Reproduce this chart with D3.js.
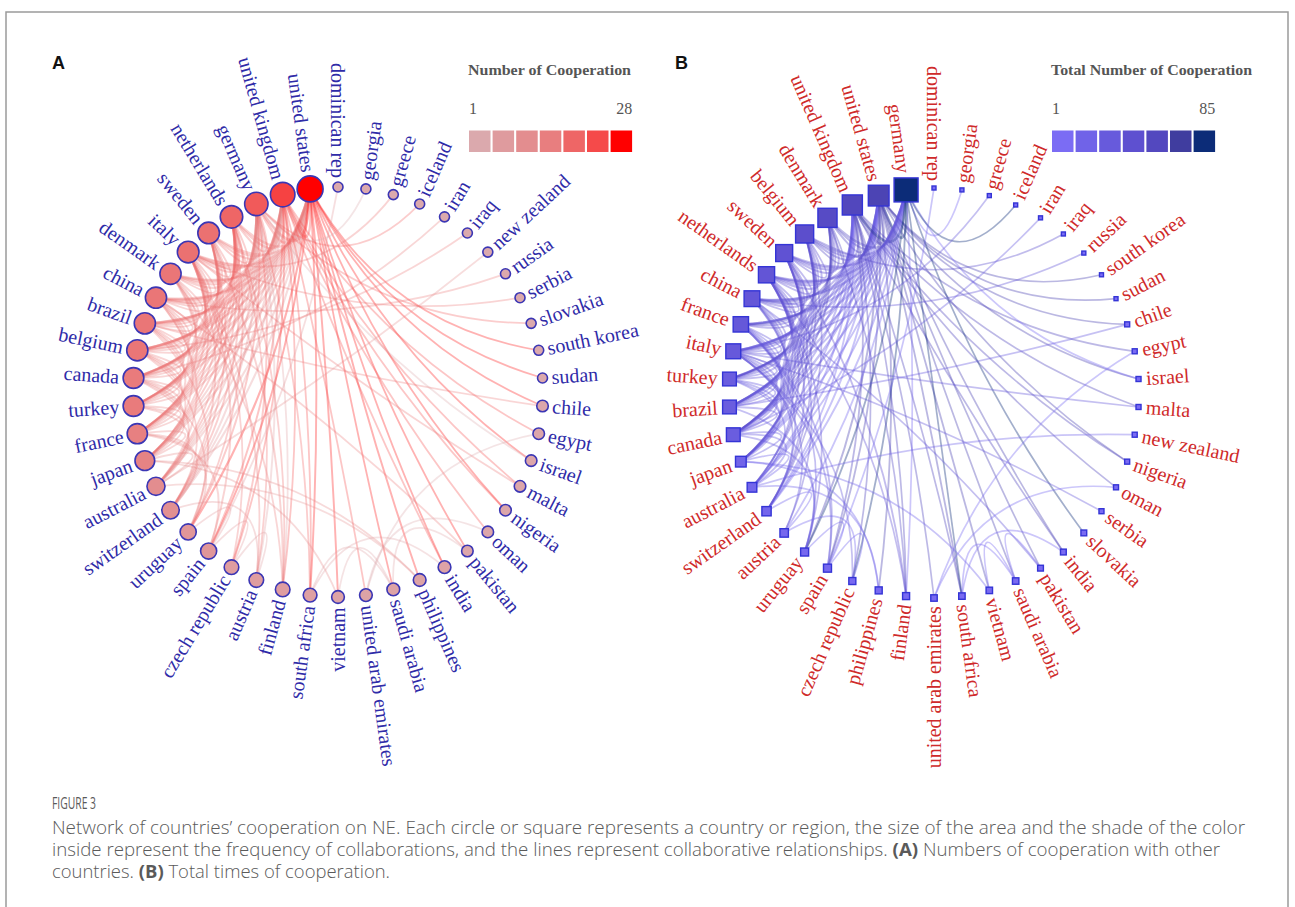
<!DOCTYPE html>
<html><head><meta charset="utf-8">
<script src="https://cdn.jsdelivr.net/npm/d3@7"></script>
<style>body{margin:0;background:#fff}svg{display:block}</style>
</head><body>
<svg id="chart" width="1295" height="907"></svg>
<script>
// ---------- DATA ----------
// Panel A nodes, clockwise from the top of the circle
const nodesA = ["dominican rep","georgia","greece","iceland","iran","iraq","new zealand","russia","serbia","slovakia","south korea","sudan","chile","egypt","israel","malta","nigeria","oman","pakistan","india","philippines","saudi arabia","united arab emirates","vietnam","south africa","finland","austria","czech republic","spain","uruguay","switzerland","australia","japan","france","turkey","canada","belgium","brazil","china","denmark","italy","sweden","netherlands","germany","united kingdom","united states"];
const valuesA = [1,1,1,1,1,1,1,1,1,1,1,1,2,2,2,2,2,2,2,3,3,3,3,3,4,5,5,5,7,7,9,10,13,14,15,15,16,16,16,16,17,17,19,21,24,28];
// Panel B nodes, clockwise from the top of the circle
const nodesB = ["dominican rep","georgia","greece","iceland","iran","iraq","russia","south korea","sudan","chile","egypt","israel","malta","new zealand","nigeria","oman","serbia","slovakia","india","pakistan","saudi arabia","vietnam","south africa","united arab emirates","finland","philippines","czech republic","spain","uruguay","austria","switzerland","australia","japan","canada","brazil","turkey","italy","france","china","netherlands","sweden","belgium","denmark","united kingdom","united states","germany"];
const valuesB = [1,1,1,1,1,1,1,1,1,2,2,2,2,2,2,2,2,3,3,3,4,4,4,4,5,5,5,7,7,8,10,11,14,25,25,25,30,32,34,36,40,46,52,58,62,85];

// collaboration links [source, target, weight]
const links = [
["united kingdom","united states",8],["germany","united states",9],["netherlands","united states",5],["sweden","united states",4],["italy","united states",5],["denmark","united states",4],["china","united states",6],["brazil","united states",5],["belgium","united states",4],["canada","united states",6],["turkey","united states",4],["france","united states",4],["japan","united states",4],["australia","united states",3],["switzerland","united states",3],
["united states","uruguay",3],["united states","spain",2],["united states","south africa",2],["united states","vietnam",2],["united states","saudi arabia",1],["united states","philippines",2],["united states","india",1],["united states","pakistan",1],["united states","nigeria",1],["united states","israel",1],["united states","chile",1],["united states","south korea",1],["united states","sudan",1],
["germany","united kingdom",7],["netherlands","united kingdom",5],["sweden","united kingdom",4],["italy","united kingdom",4],["denmark","united kingdom",4],["china","united kingdom",3],["brazil","united kingdom",3],["belgium","united kingdom",4],["canada","united kingdom",3],["turkey","united kingdom",2],["france","united kingdom",3],["japan","united kingdom",2],["australia","united kingdom",3],["switzerland","united kingdom",2],
["united kingdom","spain",2],["united kingdom","czech republic",1],["united kingdom","finland",1],["united kingdom","south africa",1],["united kingdom","india",1],["united kingdom","nigeria",1],["united kingdom","malta",1],["united kingdom","egypt",1],["united kingdom","united arab emirates",1],["united kingdom","oman",1],
["netherlands","germany",5],["sweden","germany",4],["italy","germany",4],["denmark","germany",5],["china","germany",3],["brazil","germany",3],["belgium","germany",4],["canada","germany",3],["turkey","germany",3],["france","germany",4],["japan","germany",2],["australia","germany",2],["switzerland","germany",3],["austria","germany",2],["finland","germany",1],["israel","germany",1],["georgia","germany",1],
["germany","uruguay",2],["germany","czech republic",2],["germany","iceland",1],["germany","slovakia",1],["germany","south africa",1],
["netherlands","sweden",3],["netherlands","italy",3],["netherlands","denmark",3],["netherlands","china",2],["netherlands","brazil",2],["netherlands","belgium",4],["netherlands","canada",2],["netherlands","turkey",2],["netherlands","france",3],["netherlands","japan",2],["netherlands","australia",2],["netherlands","switzerland",2],["netherlands","finland",1],["netherlands","austria",1],["netherlands","uruguay",1],
["sweden","italy",3],["sweden","denmark",4],["sweden","china",2],["sweden","brazil",2],["sweden","belgium",2],["sweden","canada",2],["sweden","turkey",2],["sweden","france",2],["sweden","japan",1],["sweden","finland",2],["sweden","switzerland",1],["sweden","australia",1],
["italy","denmark",2],["italy","china",2],["italy","brazil",2],["italy","belgium",3],["italy","canada",2],["italy","turkey",2],["italy","france",3],["italy","japan",1],["italy","switzerland",2],["italy","spain",2],["italy","czech republic",1],["italy","austria",1],["italy","greece",1],["italy","serbia",1],["italy","malta",1],
["denmark","china",2],["denmark","brazil",2],["denmark","belgium",2],["denmark","canada",2],["denmark","turkey",1],["denmark","france",2],["denmark","finland",1],
["china","brazil",2],["china","belgium",1],["china","canada",2],["china","turkey",2],["china","japan",2],["china","australia",2],["china","pakistan",1],["china","russia",1],
["brazil","belgium",2],["brazil","canada",2],["brazil","turkey",2],["brazil","france",2],["brazil","uruguay",2],["brazil","chile",1],
["belgium","canada",2],["belgium","turkey",2],["belgium","france",3],["belgium","japan",1],["belgium","switzerland",1],["belgium","iraq",1],
["canada","turkey",2],["canada","france",2],["canada","japan",2],["canada","australia",2],["canada","uruguay",1],["canada","iran",1],
["turkey","france",1],["turkey","japan",1],["turkey","australia",1],
["france","japan",2],["france","switzerland",2],["france","spain",2],["france","uruguay",1],
["japan","australia",2],["japan","philippines",1],["japan","vietnam",1],
["australia","new zealand",1],["australia","philippines",1],
["switzerland","austria",1],["spain","dominican rep",1],["spain","czech republic",1],["spain","uruguay",1],["austria","czech republic",1],
["south africa","saudi arabia",1],["south africa","india",1],["vietnam","saudi arabia",1],["saudi arabia","pakistan",1],["egypt","united arab emirates",1],["oman","united arab emirates",1]
];

const legendColorsA = ["#dba9ad","#df9b9e","#e38d8f","#e87e7f","#ee6666","#f54a4a","#ff0000"];
const legendColorsB = ["#7b6cf4","#7063e8","#675adc","#5e50d0","#5348bf","#403d9f","#0c2c78"];
const legendTitles = ["Number of Cooperation","Total Number of Cooperation"];
const legendRangeA = [1,28];
const legendRangeB = [1,85];
const panelLetters = ["A","B"];
const figureLabel = "FIGURE 3";
const captionLines = [
  [["Network of countries’ cooperation on NE. Each circle or square represents a country or region, the size of the area and the shade of the color",false]],
  [["inside represent the frequency of collaborations, and the lines represent collaborative relationships. ",false],["(A)",true],[" Numbers of cooperation with other",false]],
  [["countries. ",false],["(B)",true],[" Total times of cooperation.",false]]
];

// ---------- DRAW ----------
const svg = d3.select("#chart");
svg.append("rect").attr("x",6).attr("y",12).attr("width",1282).attr("height",1000)
  .attr("fill","none").attr("stroke","#9a9a9a").attr("stroke-width",1.5);

const serif = "'Liberation Serif','Times New Roman',serif";

function drawPanel(cfg){
  const g = svg.append("g");
  const n = cfg.nodes.length;
  const ang = d3.scaleLinear().domain([0,n]).range([0,2*Math.PI]);
  const ext = d3.extent(cfg.values);
  const size = d3.scaleSqrt().domain(ext).range(cfg.sizeRange);
  const stops = d3.range(cfg.colors.length).map(i=>cfg.legendRange[0]+i*(cfg.legendRange[1]-cfg.legendRange[0])/(cfg.colors.length-1));
  const color = d3.scaleLinear().domain(stops).range(cfg.colors).interpolate(d3.interpolateRgb);
  const width = d3.scaleLinear().domain([1,9]).range(cfg.edgeWidth);
  const pos = {}, val = {};
  cfg.nodes.forEach((name,i)=>{
    const a = ang(i);
    pos[name] = [cfg.cx + cfg.R*Math.sin(a), cfg.cy - cfg.R*Math.cos(a)];
    val[name] = cfg.values[i];
  });
  // edges (coloured by source node)
  const eg = g.append("g").attr("fill","none");
  links.forEach(([s,t,w])=>{
    const p1 = pos[s], p2 = pos[t];
    const mx=(p1[0]+p2[0])/2, my=(p1[1]+p2[1])/2;
    const k = cfg.curve;
    const qx = cfg.cx*k + mx*(1-k), qy = cfg.cy*k + my*(1-k);
    const p = d3.path(); p.moveTo(p1[0],p1[1]); p.quadraticCurveTo(qx,qy,p2[0],p2[1]);
    eg.append("path").attr("d",p.toString())
      .attr("stroke",color(val[s])).attr("stroke-opacity",cfg.edgeOpacity)
      .attr("stroke-width",width(w));
  });
  // nodes
  const ng = g.append("g");
  cfg.nodes.forEach((name,i)=>{
    const [x,y] = pos[name]; const s = size(cfg.values[i]);
    if(cfg.shape==="circle"){
      ng.append("circle").attr("cx",x).attr("cy",y).attr("r",s)
        .attr("fill",color(cfg.values[i])).attr("stroke",cfg.stroke).attr("stroke-width",1.6);
    } else {
      ng.append("rect").attr("x",x-s/2).attr("y",y-s/2).attr("width",s).attr("height",s)
        .attr("fill",color(cfg.values[i])).attr("stroke",cfg.stroke).attr("stroke-width",1.4);
    }
  });
  // labels
  const lg = g.append("g").attr("font-family",serif).attr("font-size",cfg.fontSize).attr("fill",cfg.labelColor);
  cfg.nodes.forEach((name,i)=>{
    const a = ang(i); const deg = a*180/Math.PI;
    const s = size(cfg.values[i]);
    const off = cfg.shape==="circle" ? s + 4 : s/2 + 5;
    const d = cfg.R + off;
    const x = cfg.cx + d*Math.sin(a), y = cfg.cy - d*Math.cos(a);
    const right = i>0 && i < n/2;
    lg.append("text").attr("transform",`translate(${x},${y}) rotate(${right?deg-90:deg+90})`)
      .attr("text-anchor",right?"start":"end").attr("dy","0.33em").text(name);
  });
  // legend
  const leg = svg.append("g").attr("font-family",serif).attr("fill","#555");
  leg.append("text").attr("x",cfg.legX).attr("y",75).attr("font-weight","bold").attr("font-size",15)
    .attr("textLength",cfg.legTitleLen).attr("lengthAdjust","spacingAndGlyphs").text(cfg.legTitle);
  leg.append("text").attr("x",cfg.legX+1).attr("y",114).attr("font-size",16).text(cfg.legendRange[0]);
  const slot = 23.6;
  leg.append("text").attr("x",cfg.legX+slot*7-1).attr("y",114).attr("font-size",16).attr("text-anchor","end").text(cfg.legendRange[1]);
  cfg.colors.forEach((c,j)=>{
    leg.append("rect").attr("x",cfg.legX+1+j*slot).attr("y",130.5).attr("width",21.5).attr("height",21.5).attr("fill",c);
  });
  svg.append("text").attr("x",cfg.letterX).attr("y",69).attr("font-family","'Liberation Sans',Arial,sans-serif")
    .attr("font-weight","bold").attr("font-size",18).attr("fill","#111").text(cfg.letter);
}

drawPanel({nodes:nodesA, values:valuesA, cx:338, cy:392, R:205, shape:"circle", sizeRange:[5,13],
  colors:legendColorsA, legendRange:legendRangeA, stroke:"#3b36b4", labelColor:"#2f2ba8", fontSize:20,
  edgeOpacity:0.3, edgeWidth:[1.8,3], curve:0.45, legX:468, legTitle:legendTitles[0], legTitleLen:163, letter:panelLetters[0], letterX:52});
drawPanel({nodes:nodesB, values:valuesB, cx:934, cy:393, R:205, shape:"square", sizeRange:[4,24],
  colors:legendColorsB, legendRange:legendRangeB, stroke:"#3434d6", labelColor:"#cf2a2a", fontSize:20,
  edgeOpacity:0.38, edgeWidth:[1.7,2.8], curve:0.45, legX:1051, legTitle:legendTitles[1], legTitleLen:201, letter:panelLetters[1], letterX:675});

// caption
const cap = svg.append("g").attr("font-family","'Open Sans','Noto Sans',sans-serif").attr("fill","#5a5a5a");
cap.append("text").attr("x",52).attr("y",809).attr("font-size",16).attr("textLength",44).attr("lengthAdjust","spacingAndGlyphs").text(figureLabel);
const capLens = [1193,1168,338];
const capY = [834,856,878];
captionLines.forEach((parts,li)=>{
  const t = cap.append("text").attr("x",52).attr("y",capY[li]).attr("font-size",17.5).attr("font-weight",300)
    .attr("textLength",capLens[li]).attr("lengthAdjust","spacingAndGlyphs");
  parts.forEach(([s,b])=>{ t.append("tspan").attr("font-weight",b?"bold":"300").text(s); });
});
</script>
</body></html>
